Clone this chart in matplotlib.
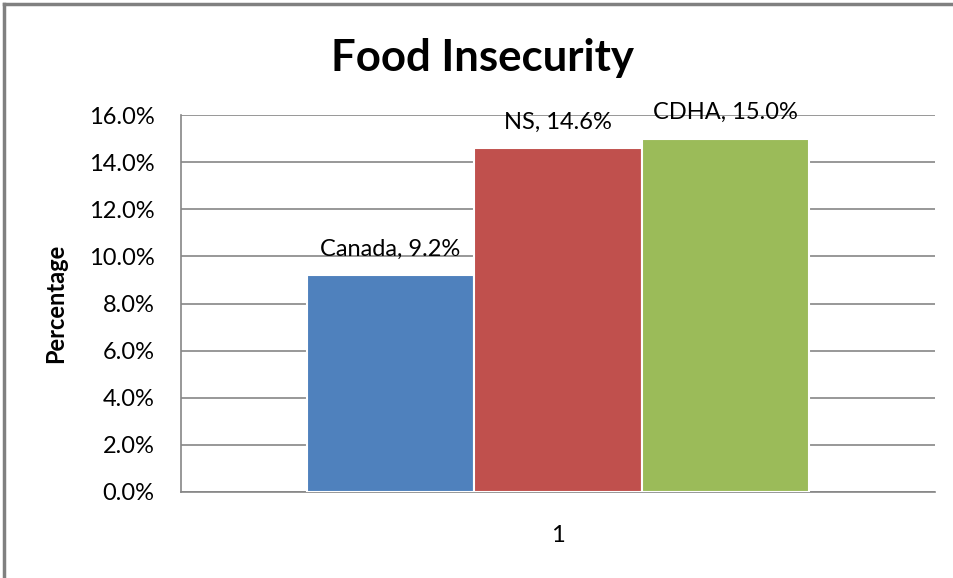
import matplotlib
matplotlib.use("Agg")
import matplotlib.pyplot as plt
from matplotlib.lines import Line2D
from matplotlib.ticker import FuncFormatter

plt.rcParams['font.family'] = ['Lato', 'DejaVu Sans']

# Data
categories = ["Canada", "NS", "CDHA"]
values = [9.2, 14.6, 15.0]
colors = ["#4F81BD", "#C0504D", "#9BBB59"]
group_label = "1"
y_ticks = [0, 2, 4, 6, 8, 10, 12, 14, 16]

W, H = 954, 578
fig = plt.figure(figsize=(W / 100, H / 100), dpi=100)
fig.patch.set_facecolor("white")

ax = fig.add_axes([181 / W, 1 - 492 / H, (935 - 181) / W, (492 - 115) / H])

bar_w = 0.2223
offsets = [(i - 1) * bar_w for i in range(len(values))]
for off, v, c, name in zip(offsets, values, colors, categories):
    ax.bar(off, v, width=bar_w, color=c, edgecolor="white", linewidth=1.5, zorder=3)
    ax.text(off, v + 1.1, f"{name}, {v:.1f}%", ha="center", va="center",
            fontsize=17, color="#000000", zorder=4, clip_on=False)

ax.set_xlim(-0.5, 0.5)
ax.set_ylim(0, 16)
ax.set_yticks(y_ticks)
ax.yaxis.set_major_formatter(FuncFormatter(lambda v, p: f"{v:.1f}%"))
ax.set_xticks([0])
ax.set_xticklabels([group_label])
ax.tick_params(axis="x", length=0, pad=24, labelsize=17)
ax.tick_params(axis="y", length=0, pad=19, labelsize=17)
ax.grid(axis="y", color="#868686", linewidth=1.2, zorder=0)
for s in ["top", "right"]:
    ax.spines[s].set_visible(False)
for s in ["left", "bottom"]:
    ax.spines[s].set_color("#868686")
    ax.spines[s].set_linewidth(1.2)

ax.set_ylabel("Percentage", fontsize=17, fontweight="bold", labelpad=16)

fig.text(483 / W, 1 - 58 / H, "Food Insecurity", ha="center", va="center",
         fontsize=31.5, fontweight="bold")

# Outer chart frame (left and top edges)
fig.add_artist(Line2D([4 / W, 4 / W], [0, 1 - 4 / H], transform=fig.transFigure,
                      color="#808080", linewidth=2.5))
fig.add_artist(Line2D([4 / W, 1], [1 - 4 / H, 1 - 4 / H], transform=fig.transFigure,
                      color="#808080", linewidth=2.5))

fig.savefig("out.png", dpi=100)
